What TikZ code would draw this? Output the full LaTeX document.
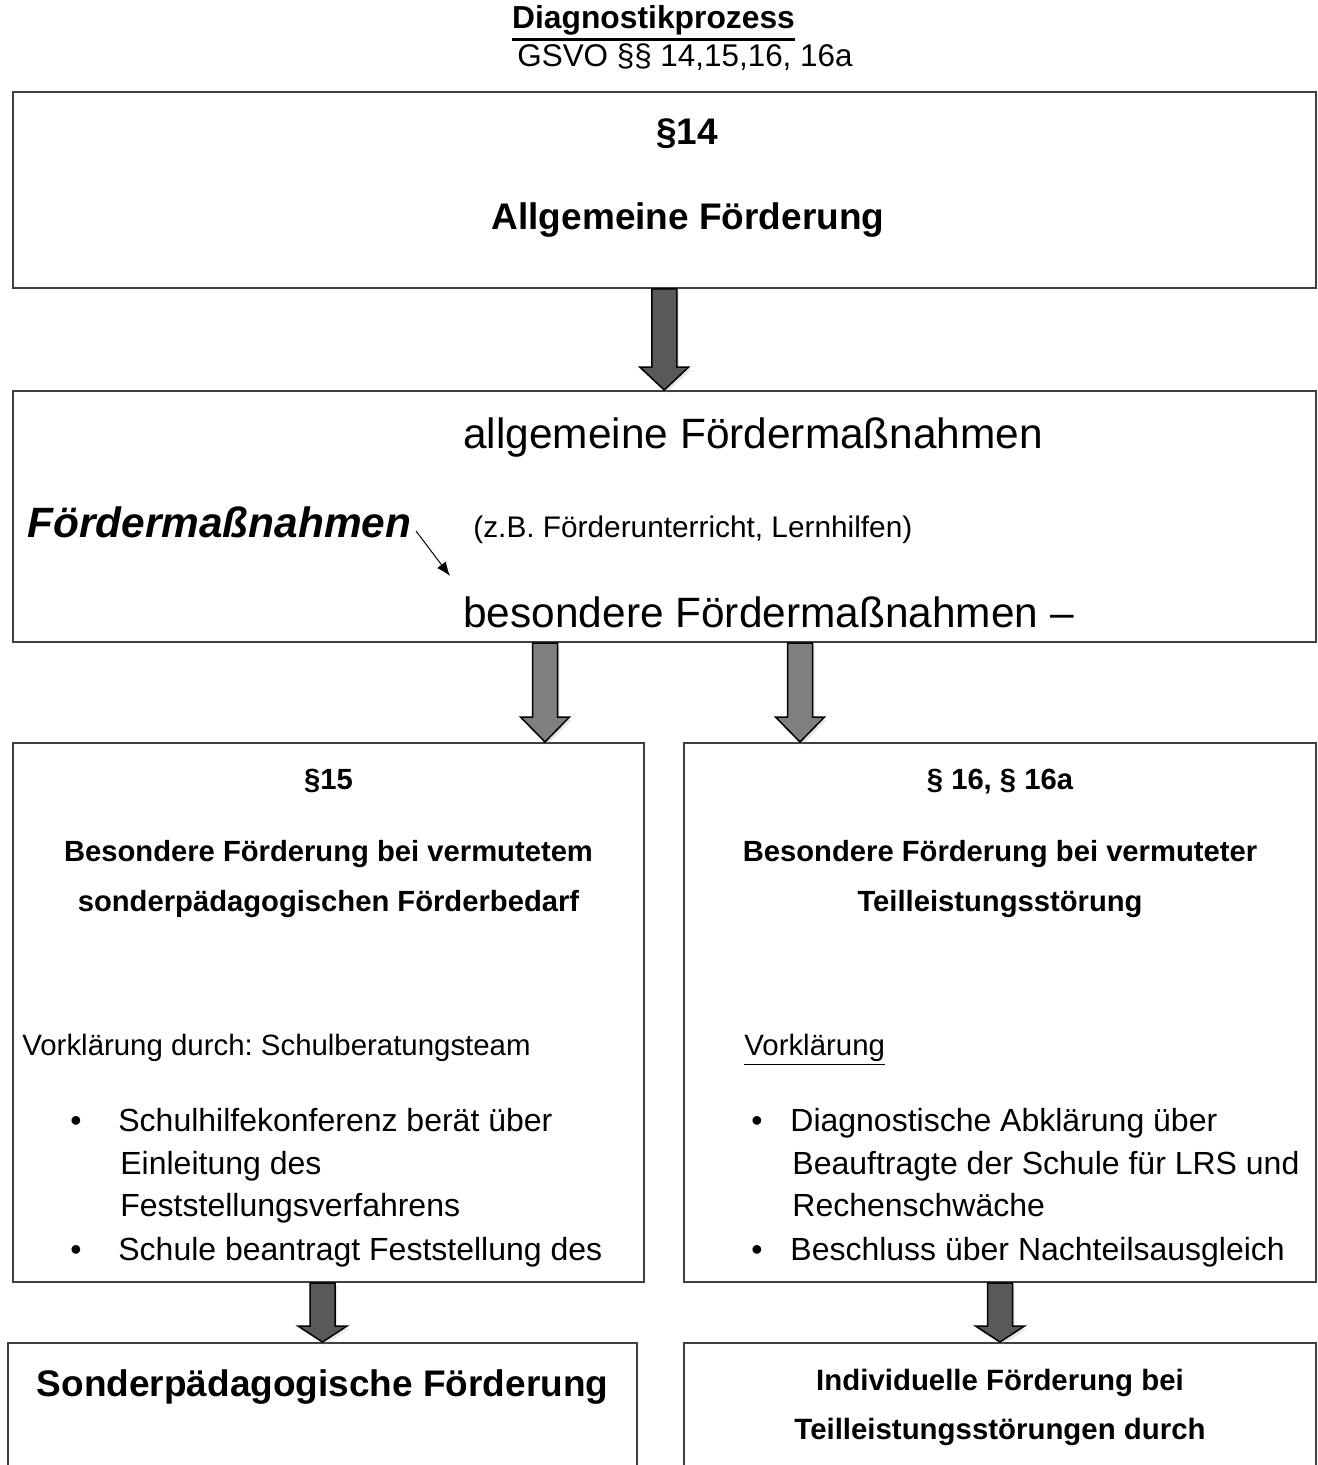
\documentclass[tikz,border=0pt]{standalone}
\usepackage{fontspec}
\setmainfont{Liberation Sans}
\usetikzlibrary{arrows.meta}
\usetikzlibrary{calc}
\usetikzlibrary{fit}
\usetikzlibrary{shadows}

\definecolor{boxgray}{HTML}{404040}
\definecolor{arrdark}{HTML}{595959}
\definecolor{arrmid}{HTML}{7F7F7F}

\newcommand{\fs}[1]{\fontsize{#1}{#1}\selectfont}

% block arrow: fill, shaft top, tip, head length
\newcommand{\fatarrow}[4]{%
  \draw[fatarr,fill=#1] ($(#2)+(-12.5,0)$) -- ($(#3)+(-12.5,-#4)$)
    -- ($(#3)+(-24.5,-#4)$) -- (#3) -- ($(#3)+(24.5,-#4)$)
    -- ($(#3)+(12.5,-#4)$) -- ($(#2)+(12.5,0)$) -- cycle;}

\frenchspacing

\begin{document}
\begin{tikzpicture}[x=0.5pt,y=-0.5pt,
  box/.style={draw=boxgray,line width=1pt,inner sep=0pt},
  txt/.style={inner sep=0pt,anchor=base west},
  ctxt/.style={inner sep=0pt,anchor=base},
  fatarr/.style={draw=black,line width=0.75pt,line join=miter,
    drop shadow={opacity=0.2,shadow xshift=1pt,shadow yshift=-1.5pt}}]

\useasboundingbox (0,0) rectangle (1317,1465);
\clip (0,0) rectangle (1317,1465);

\node[ctxt,font=\fs{15.9}\bfseries] (titel) at (653.5,29) {Diagnostikprozess};
\draw[line width=1.5pt] ($(titel.base west)+(0,10.5)$) -- ($(titel.base east)+(0,10.5)$);
\node[txt,font=\fs{15.7}] (gsvo) at (517,67) {GSVO §§ 14,15,16, 16a};

% boxes
\node[box,fit={(12.5,92) (1316,288)}] (box1) {};
\node[box,fit={(12.5,391) (1316,642)}] (box2) {};
\node[box,fit={(12.5,743) (644,1282)}] (boxL) {};
\node[box,fit={(684,743) (1316,1282)}] (boxR) {};
\node[box,fit={(8,1343) (637,1520)}] (boxSL) {};
\node[box,fit={(684,1343) (1316,1520)}] (boxIF) {};

\coordinate (axL) at (545,700);
\coordinate (axR) at (800,700);

\fatarrow{arrdark}{box1.south}{box1.south |- box2.north}{23}
\fatarrow{arrmid}{axL |- box2.south}{axL |- boxL.north}{25}
\fatarrow{arrmid}{axR |- box2.south}{axR |- boxR.north}{25}
\fatarrow{arrdark}{boxSL.north |- boxL.south}{boxSL.north}{16}
\fatarrow{arrdark}{boxIF.north |- boxR.south}{boxIF.north}{16}

% box 1
\node[ctxt,font=\fs{18.5}\bfseries] (p14) at (687,145) {§14};
\node[ctxt,font=\fs{18.5}\bfseries] (allg) at (688,230) {Allgemeine Förderung};

% box 2
\node[txt,font=\fs{21.2}] (allgfm) at (463,448) {allgemeine Fördermaßnahmen};
\node[txt,font=\fs{21.2}\bfseries\itshape] (fm) at (27,537) {Fördermaßnahmen};
\node[txt,font=\fs{14.9}] (zb) at (473,537) {(z.B. Förderunterricht, Lernhilfen)};
\node[txt,font=\fs{21.2}] (besfm) at (463,627) {besondere Fördermaßnahmen –};
\coordinate (pfA) at (416,531);
\coordinate (pfB) at (450,576);
\draw[-{Latex[length=7pt,width=5.5pt]},line width=0.5pt] (pfA) -- (pfB);

% left box
\node[ctxt,font=\fs{14.6}\bfseries] (p15) at (328.5,789) {§15};
\node[ctxt,font=\fs{14.6}\bfseries] (bes1) at (328.5,861) {Besondere Förderung bei vermutetem};
\node[ctxt,font=\fs{14.6}\bfseries] (bes2) at (328.5,911) {sonderpädagogischen Förderbedarf};
\node[txt,font=\fs{14.7}] (vork1) at (22,1055) {Vorklärung durch: Schulberatungsteam};
\node[txt,font=\fs{16}] (bulA) at (70,1131) {\textbullet};
\node[txt,font=\fs{16}] (itA1) at (118,1131) {Schulhilfekonferenz berät über};
\node[txt,font=\fs{16}] (itA2) at (120,1174) {Einleitung des};
\node[txt,font=\fs{16}] (itA3) at (120,1216) {Feststellungsverfahrens};
\node[txt,font=\fs{16}] (bulB) at (70,1260) {\textbullet};
\node[txt,font=\fs{16}] (itB1) at (118,1260) {Schule beantragt Feststellung des};

% right box
\node[ctxt,font=\fs{14.6}\bfseries] (p16) at (1000,789) {§ 16, § 16a};
\node[ctxt,font=\fs{14.6}\bfseries] (bes3) at (1000,861) {Besondere Förderung bei vermuteter};
\node[ctxt,font=\fs{14.6}\bfseries] (bes4) at (1000,911) {Teilleistungsstörung};
\node[txt,font=\fs{14.7}] (vork2) at (744,1055) {\underline{Vorklärung}};
\node[txt,font=\fs{16}] (bulC) at (751,1131) {\textbullet};
\node[txt,font=\fs{16}] (itC1) at (790,1131) {Diagnostische Abklärung über};
\node[txt,font=\fs{16}] (itC2) at (792,1174) {Beauftragte der Schule für LRS und};
\node[txt,font=\fs{16}] (itC3) at (792,1216) {Rechenschwäche};
\node[txt,font=\fs{16}] (bulD) at (751,1260) {\textbullet};
\node[txt,font=\fs{16}] (itD1) at (790,1260) {Beschluss über Nachteilsausgleich};

% bottom boxes
\node[ctxt,font=\fs{18.5}\bfseries] (sopaed) at (322.5,1396) {Sonderpädagogische Förderung};
\node[ctxt,font=\fs{14.7}\bfseries] (indiv1) at (1000,1390) {Individuelle Förderung bei};
\node[ctxt,font=\fs{14.7}\bfseries] (indiv2) at (1000,1439) {Teilleistungsstörungen durch};
\end{tikzpicture}
\end{document}
